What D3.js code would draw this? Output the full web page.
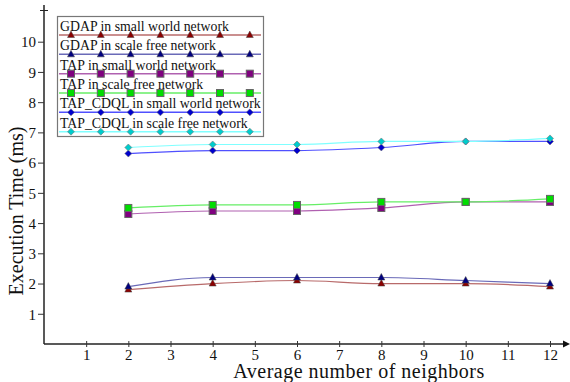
<!DOCTYPE html>
<html>
<head>
<meta charset="utf-8">
<script src="https://cdn.jsdelivr.net/npm/d3@7"></script>
<style>
  body { margin: 0; background: #fff; }
  text { font-family: "Liberation Serif", "DejaVu Serif", serif; fill: #111; }
</style>
</head>
<body>
<div id="chart"></div>
<script>
var neighbors = [2, 4, 6, 8, 10, 12];
var xTicks = [1, 2, 3, 4, 5, 6, 7, 8, 9, 10, 11, 12];
var yTicks = [1, 2, 3, 4, 5, 6, 7, 8, 9, 10];

var gdapSmall = [1.8, 2.0, 2.1, 2.0, 2.0, 1.9];
var gdapScale = [1.9, 2.2, 2.2, 2.2, 2.1, 2.0];
var tapSmall  = [4.3, 4.4, 4.4, 4.5, 4.7, 4.7];
var tapScale  = [4.5, 4.6, 4.6, 4.7, 4.7, 4.8];
var cdqlSmall = [6.3, 6.4, 6.4, 6.5, 6.7, 6.7];
var cdqlScale = [6.5, 6.6, 6.6, 6.7, 6.7, 6.8];

var seriesNames = [
  "GDAP in small world network",
  "GDAP in scale free network",
  "TAP in small world network",
  "TAP in scale free network",
  "TAP_CDQL in small world network",
  "TAP_CDQL in scale free network"
];

var series = [
  {name: seriesNames[0], values: gdapSmall, line: "#b86a6a", fill: "#8b0000", shape: "tri"},
  {name: seriesNames[1], values: gdapScale, line: "#6a6ab8", fill: "#000080", shape: "tri"},
  {name: seriesNames[2], values: tapSmall,  line: "#b060b0", fill: "#800080", shape: "sq"},
  {name: seriesNames[3], values: tapScale,  line: "#66ee66", fill: "#00dd00", shape: "sq"},
  {name: seriesNames[4], values: cdqlSmall, line: "#5050ff", fill: "#0000cc", shape: "dia"},
  {name: seriesNames[5], values: cdqlScale, line: "#80ffff", fill: "#00cccc", shape: "dia"}
];

var width = 570, height = 382;
var x0 = 44, y0 = 344;

var x = d3.scaleLinear().domain([0, 12]).range([x0, 550]);
var y = d3.scaleLinear().domain([0, 10]).range([y0, 41.7]);

var svg = d3.select("#chart").append("svg")
    .attr("width", width)
    .attr("height", height);

// axes
svg.append("line").attr("x1", x0).attr("y1", 5).attr("x2", x0).attr("y2", y0)
    .attr("stroke", "#222").attr("stroke-width", 1.5);
svg.append("line").attr("x1", x0 - 4).attr("y1", 10.5).attr("x2", x0 + 4).attr("y2", 10.5)
    .attr("stroke", "#222").attr("stroke-width", 1);
svg.append("line").attr("x1", x0).attr("y1", y0).attr("x2", 566).attr("y2", y0)
    .attr("stroke", "#222").attr("stroke-width", 1.5);
svg.append("path").attr("d", "M570,344 L563,340.5 L563,347.5 Z").attr("fill", "#111");

var yAxis = d3.axisLeft(y).tickValues(yTicks).tickSize(6).tickPadding(2).tickFormat(d3.format("d"));
var gy = svg.append("g").attr("transform", "translate(" + x0 + ",0)").call(yAxis);
gy.select(".domain").remove();
gy.selectAll("text").style("font-size", "15px").attr("dy", "0.35em");
gy.selectAll("line").attr("stroke", "#333");

var xAxis = d3.axisBottom(x).tickValues(xTicks).tickSize(3).tickPadding(2).tickFormat(d3.format("d"));
var gx = svg.append("g").attr("transform", "translate(0," + y0 + ")").call(xAxis);
gx.select(".domain").remove();
gx.selectAll("text").style("font-size", "15px");
gx.selectAll("line").attr("y1", -3).attr("stroke", "#333");

// axis titles
svg.append("text")
    .attr("x", 359).attr("y", 378)
    .attr("text-anchor", "middle")
    .style("font-size", "20px")
    .style("letter-spacing", "0.5px")
    .text("Average number of neighbors");

svg.append("text")
    .attr("transform", "translate(23,211) rotate(-90)")
    .attr("text-anchor", "middle")
    .style("font-size", "20px")
    .text("Execution Time (ms)");

// markers
function drawMarker(g, s, cx, cy) {
  if (s.shape === "tri") {
    g.append("path")
      .attr("d", "M" + cx + "," + (cy - 4) + " L" + (cx + 3.5) + "," + (cy + 2.5) + " L" + (cx - 3.5) + "," + (cy + 2.5) + " Z")
      .attr("fill", s.fill).attr("stroke", "#444").attr("stroke-width", 0.5);
  } else if (s.shape === "sq") {
    g.append("rect")
      .attr("x", cx - 3.5).attr("y", cy - 3.5).attr("width", 7).attr("height", 7)
      .attr("fill", s.fill).attr("stroke", "#666").attr("stroke-width", 1);
  } else {
    g.append("path")
      .attr("d", "M" + cx + "," + (cy - 3.5) + " L" + (cx + 3.5) + "," + cy + " L" + cx + "," + (cy + 3.5) + " L" + (cx - 3.5) + "," + cy + " Z")
      .attr("fill", s.fill).attr("stroke", "#777").attr("stroke-width", 0.6);
  }
}

var lineGen = d3.line()
    .x(function(d) { return x(d.k); })
    .y(function(d) { return y(d.v); })
    .curve(d3.curveMonotoneX);

var plot = svg.append("g");
series.forEach(function(s) {
  var pts = neighbors.map(function(k, i) { return {k: k, v: s.values[i]}; });
  plot.append("path")
      .datum(pts)
      .attr("fill", "none")
      .attr("stroke", s.line)
      .attr("stroke-width", 1.2)
      .attr("d", lineGen);
  pts.forEach(function(p) { drawMarker(plot, s, x(p.k), y(p.v)); });
});

// legend
var legend = svg.append("g");
legend.append("rect")
    .attr("x", 57.5).attr("y", 16.5).attr("width", 206).attr("height", 120)
    .attr("fill", "#fff").attr("stroke", "#777").attr("stroke-width", 1.2);

var legendRows = d3.scaleLinear().domain([0, 5]).range([35, 131.7]);
var legendMarks = d3.range(7).map(function(i) { return 71 + i * 29.8; });

series.forEach(function(s, i) {
  var ly = legendRows(i);
  legend.append("line")
      .attr("x1", 59).attr("x2", 261).attr("y1", ly).attr("y2", ly)
      .attr("stroke", s.line).attr("stroke-width", 1.5);
  legendMarks.forEach(function(mx) { drawMarker(legend, s, mx, ly); });
  legend.append("text")
      .attr("x", 60).attr("y", ly - 4)
      .style("font-size", "13.8px")
      .text(s.name);
});
</script>
</body>
</html>
